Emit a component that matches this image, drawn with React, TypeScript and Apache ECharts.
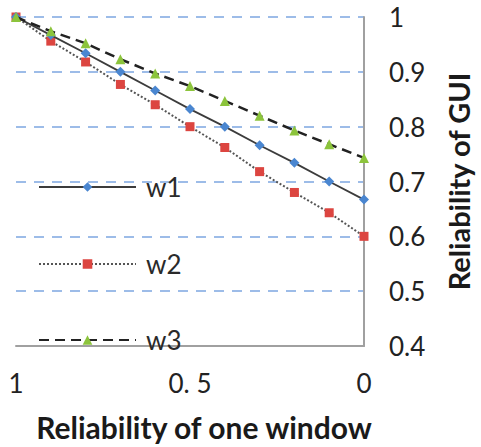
import React, { useEffect, useRef } from "react";
import * as echarts from "echarts";

const xValues = [1, 0.9, 0.8, 0.7, 0.6, 0.5, 0.4, 0.3, 0.2, 0.1, 0];
const w1 = [1, 0.967, 0.934, 0.9, 0.866, 0.832, 0.8, 0.766, 0.734, 0.7, 0.667];
const w2 = [1, 0.956, 0.918, 0.877, 0.84, 0.8, 0.762, 0.718, 0.68, 0.643, 0.6];
const w3 = [1, 0.974, 0.952, 0.923, 0.897, 0.874, 0.847, 0.82, 0.793, 0.768, 0.743];
const seriesNames = ["w1", "w2", "w3"];
const xTickLabels: Record<string, string> = { "1": "1", "0.5": "0. 5", "0": "0" };

const FONT = "Lato";

export default function App() {
  const ref = useRef<HTMLDivElement>(null);
  useEffect(() => {
    if (!ref.current) return;
    const chart = echarts.init(ref.current, undefined, { renderer: "svg" });
    const toPairs = (arr: number[]) => xValues.map((x, i) => [x, arr[i]]);
    const legendBase = {
      orient: "vertical" as const,
      left: 38,
      itemWidth: 97,
      itemHeight: 12,
      padding: 0,
      textStyle: { fontSize: 26, color: "#2a2a2a", fontFamily: FONT, padding: [0, 0, 0, 5] },
    };
    chart.setOption({
      animation: false,
      grid: { left: 16, right: 114, top: 17, bottom: 100, containLabel: false },
      legend: [
        { ...legendBase, data: ["w1"], top: 174 },
        { ...legendBase, data: ["w2"], top: 251 },
        { ...legendBase, data: ["w3"], top: 327 },
      ],
      xAxis: {
        type: "value",
        min: 0,
        max: 1,
        interval: 0.5,
        inverse: true,
        axisLine: { show: true, lineStyle: { color: "#a0a0a0", width: 2 } },
        axisTick: { show: false },
        splitLine: { show: false },
        axisLabel: {
          margin: 24,
          fontSize: 26,
          color: "#222",
          fontFamily: FONT,
          formatter: (v: number) => xTickLabels[String(v)] ?? String(v),
        },
        name: "Reliability of one window",
        nameLocation: "middle",
        nameGap: 66,
        nameTextStyle: {
          fontSize: 30,
          fontWeight: "bold",
          color: "#1a1a1a",
          fontFamily: FONT,
          padding: [0, 0, 0, 28],
        },
      },
      yAxis: {
        type: "value",
        position: "right",
        min: 0.4,
        max: 1,
        interval: 0.1,
        axisLine: { show: true, lineStyle: { color: "#a0a0a0", width: 2 } },
        axisTick: { show: false },
        splitLine: {
          show: true,
          lineStyle: { color: "#9dbce8", type: [10, 8], width: 2 },
        },
        axisLabel: {
          margin: 25,
          fontSize: 26,
          color: "#222",
          fontFamily: FONT,
          formatter: (v: number) => String(Math.round(v * 10) / 10),
        },
        name: "Reliability of GUI",
        nameLocation: "middle",
        nameGap: 80,
        nameRotate: 90,
        nameTextStyle: {
          fontSize: 29,
          fontWeight: "bold",
          color: "#1a1a1a",
          fontFamily: FONT,
        },
      },
      series: [
        {
          name: seriesNames[0],
          type: "line",
          data: toPairs(w1),
          symbol: "diamond",
          symbolSize: 10,
          lineStyle: { color: "#3c3c3c", width: 1.8, type: "solid" },
          itemStyle: { color: "#4a86d0" },
          z: 3,
        },
        {
          name: seriesNames[1],
          type: "line",
          data: toPairs(w2),
          symbol: "rect",
          symbolSize: 9,
          lineStyle: { color: "#555", width: 2, type: [2, 2] },
          itemStyle: { color: "#dc4540" },
          z: 2,
        },
        {
          name: seriesNames[2],
          type: "line",
          data: toPairs(w3),
          symbol: "triangle",
          symbolSize: 10,
          lineStyle: { color: "#222", width: 2.5, type: [10, 6] },
          itemStyle: { color: "#8cc43c" },
          z: 4,
        },
      ],
    });
    return () => chart.dispose();
  }, []);
  return <div ref={ref} style={{ width: 481, height: 447, position: "absolute", left: 0, top: 0, background: "#fff" }} />;
}
